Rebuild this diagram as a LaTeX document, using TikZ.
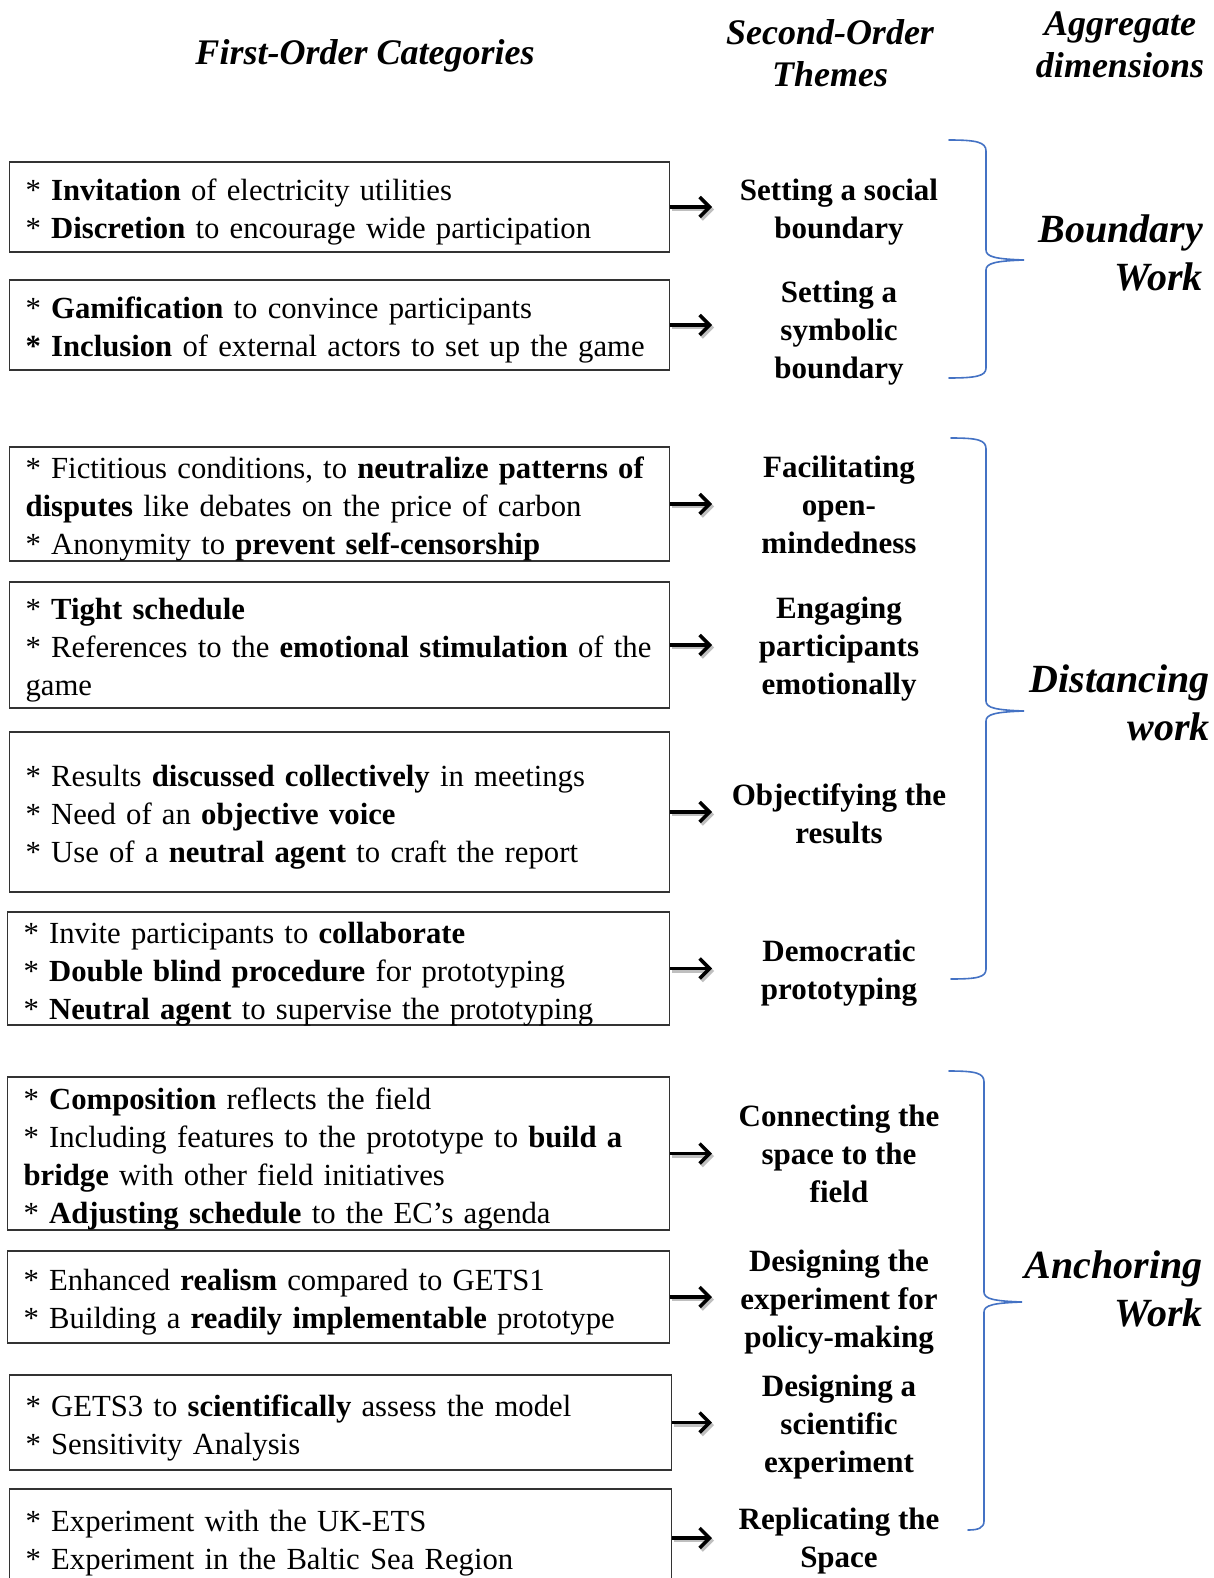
\documentclass[tikz,border=0pt]{standalone}
\usepackage{fontspec}
\setmainfont{Liberation Serif}
\usetikzlibrary{arrows.meta}
\definecolor{braceblue}{RGB}{68,114,196}
\newcommand\bodyfnt{\fontsize{30.7}{38}\selectfont}
\newcommand\themefnt{\fontsize{31}{38}\selectfont\bfseries}
\newcommand\headfnt{\fontsize{36}{42.3}\selectfont\bfseries\itshape}
\newcommand\aggfnt{\fontsize{40}{47.3}\selectfont\bfseries\itshape}
\newcommand\lowershift{\par\kern-10pt}
\begin{document}
\begin{tikzpicture}[x=1pt,y=-1pt,
  catbox/.style={draw=black!80, line width=1.2pt, anchor=west, inner xsep=16pt, inner ysep=0pt, text width=628pt, align=left, font=\bodyfnt},
  widebox/.style={catbox, text width=630pt},
  theme/.style={align=center, font=\themefnt, inner sep=0pt},
  agg/.style={align=right, font=\aggfnt, anchor=east, inner sep=0pt},
  head/.style={align=center, font=\headfnt, inner sep=0pt},
  arr/.style={line width=3.5pt, -{Straight Barb[length=10pt,width=20pt]}},
  shadowarr/.style={arr, draw=black!25},
  brace/.style={draw=braceblue, line width=1.6pt, line cap=round}
]
\useasboundingbox[fill=white] (0,0) rectangle (1213,1578);

% headers
\node[head] (h1) at (365,56) {\strut First-Order Categories};
\node[head] (h2) at (830,57) {\strut Second-Order\\\strut Themes};
\node[head] (h3) at (1120,48) {\strut Aggregate\\\strut dimensions};

% first-order boxes
\node[catbox, minimum height=90pt] (b1) at (9,207) {\strut* \textbf{Invitation} of electricity utilities\\\strut* \textbf{Discretion} to encourage wide participation\lowershift};
\node[catbox, minimum height=90pt] (b2) at (9,325) {\strut* \textbf{Gamification} to convince participants\\\strut\textbf{* Inclusion} of external actors to set up the game\lowershift};
\node[catbox, minimum height=114pt] (b3) at (9,504) {\strut* Fictitious conditions, to \textbf{neutralize patterns of}\\\strut\textbf{disputes} like debates on the price of carbon\\\strut* Anonymity to \textbf{prevent self-censorship}\lowershift};
\node[catbox, minimum height=126pt] (b4) at (9,645) {\strut* \textbf{Tight schedule}\\\strut* References to the \textbf{emotional stimulation} of the\\\strut game\lowershift};
\node[catbox, minimum height=160pt] (b5) at (9,812) {\strut* Results \textbf{discussed collectively} in meetings\\\strut* Need of an \textbf{objective voice}\\\strut* Use of a \textbf{neutral agent} to craft the report\lowershift};
\node[widebox, minimum height=113pt] (b6) at (7,968.5) {\strut* Invite participants to \textbf{collaborate}\\\strut* \textbf{Double blind procedure} for prototyping\\\strut* \textbf{Neutral agent} to supervise the prototyping\lowershift};
\node[widebox, minimum height=153pt] (b7) at (7,1153.5) {\strut* \textbf{Composition} reflects the field\\\strut* Including features to the prototype to \textbf{build a}\\\strut\textbf{bridge} with other field initiatives\\\strut* \textbf{Adjusting schedule} to the EC’s agenda\lowershift};
\node[widebox, minimum height=92pt] (b8) at (7,1297) {\strut* Enhanced \textbf{realism} compared to GETS1\\\strut* Building a \textbf{readily implementable} prototype\lowershift};
\node[widebox, minimum height=95pt] (b9) at (9,1422.5) {\strut* GETS3 to \textbf{scientifically} assess the model\\\strut* Sensitivity Analysis\lowershift};
\node[widebox, minimum height=98pt] (b10) at (9,1538) {\strut* Experiment with the UK-ETS\\\strut* Experiment in the Baltic Sea Region\lowershift};

% arrows
\coordinate (ae) at (712,0);
\foreach \i in {1,...,10}{
  \draw[shadowarr] ([shift={(2,2.5)}]b\i.east) -- ([shift={(2,2.5)}]b\i.east -| ae);
  \draw[arr] (b\i.east) -- (b\i.east -| ae);
}

% second-order themes
\node[theme] (t1) at (839,212) {\strut Setting a social\\\strut boundary};
\node[theme] (t2) at (839,333) {\strut Setting a\\symbolic\\\strut boundary};
\node[theme] (t3) at (839,508) {\strut Facilitating\\open-\\\strut mindedness};
\node[theme] (t4) at (839,649) {\strut Engaging\\participants\\\strut emotionally};
\node[theme] (t5) at (839,817) {\strut Objectifying the\\\strut results};
\node[theme] (t6) at (839,973) {\strut Democratic\\\strut prototyping};
\node[theme] (t7) at (839,1157) {\strut Connecting the\\space to the\\\strut field};
\node[theme] (t8) at (839,1302) {\strut Designing the\\experiment for\\\strut policy-making};
\node[theme] (t9) at (839,1427) {\strut Designing a\\scientific\\\strut experiment};
\node[theme] (t10) at (839,1541) {\strut Replicating the\\\strut Space};

% braces
\draw[brace] (949,140) .. controls (976,140) and (986,142) .. (986,151) -- (986,250) .. controls (986,257) and (996,259) .. (1024,260) .. controls (996,261) and (986,263) .. (986,270) -- (986,368) .. controls (986,376) and (976,378) .. (949,378);
\draw[brace] (951,438) .. controls (978,438) and (986,440) .. (986,449) -- (986,701) .. controls (986,708) and (996,710) .. (1024,711) .. controls (996,712) and (986,714) .. (986,721) -- (986,969) .. controls (986,977) and (978,979) .. (951,979);
\draw[brace] (949,1071) .. controls (976,1071) and (984,1073) .. (984,1082) -- (984,1292) .. controls (984,1299) and (994,1301) .. (1022,1302) .. controls (994,1303) and (984,1305) .. (984,1312) -- (984,1521) .. controls (984,1528) and (978,1530) .. (968,1530);

% aggregate dimensions
\node[agg] (a1) at (1203,257) {\strut Boundary\\\strut Work};
\node[agg] (a2) at (1210,707) {\strut Distancing\\\strut work};
\node[agg] (a3) at (1203,1293) {\strut Anchoring\\\strut Work};
\end{tikzpicture}
\end{document}
